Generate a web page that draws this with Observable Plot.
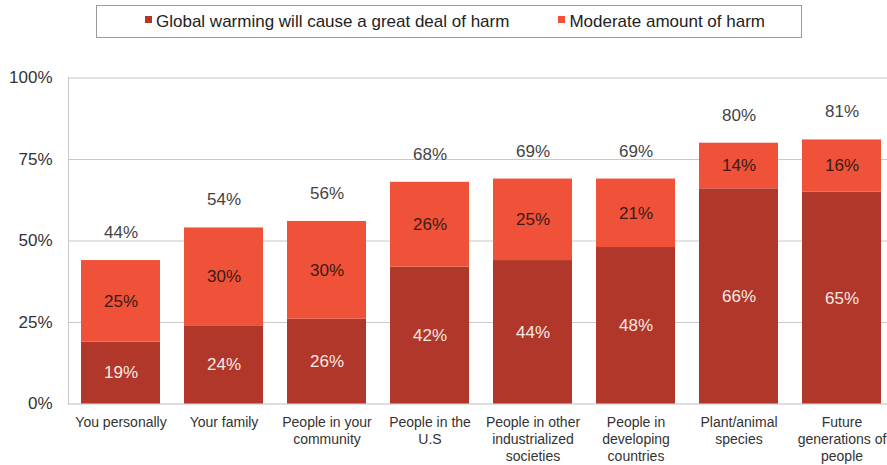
<!DOCTYPE html>
<html><head><meta charset="utf-8">
<script src="https://cdn.jsdelivr.net/npm/d3@7"></script>
<script src="https://cdn.jsdelivr.net/npm/@observablehq/plot@0.6"></script>
<style>
body{margin:0;background:#fff;font-family:"Liberation Sans",Arial,sans-serif;}
#legend{position:relative;height:45px;width:887px;}
#legend .box{position:absolute;left:96px;top:5px;width:706px;height:33px;border:1px solid #9a9a9a;box-sizing:border-box;display:flex;align-items:center;padding-left:48px;font-size:17px;color:#222;}
#legend .item{display:flex;align-items:center;white-space:nowrap;}
#legend .sw{display:inline-block;width:7px;height:7px;margin-right:4px;position:relative;top:-2px;}
#chart svg{display:block;}
</style>
</head><body>
<div id="legend"><div class="box"></div></div>
<div id="chart"></div>
<script>
const categories = ["You personally","Your family","People in your community","People in the U.S","People in other industrialized societies","People in developing countries","Plant/animal species","Future generations of people"];
const tickLabels = ["You personally","Your family","People in your\ncommunity","People in the\nU.S","People in other\nindustrialized\nsocieties","People in\ndeveloping\ncountries","Plant/animal\nspecies","Future\ngenerations of\npeople"];
const seriesNames = ["Global warming will cause a great deal of harm","Moderate amount of harm"];
const greatDeal = [19,24,26,42,44,48,66,65];
const moderate = [25,30,30,26,25,21,14,16];
const totals = [44,54,56,68,69,69,80,81];
const yTicks = [0,25,50,75,100];
const colors = ["#b0372a","#ef5139"];

const box = document.querySelector("#legend .box");
seriesNames.forEach((s,i)=>{
  const it = document.createElement("span");
  it.className="item";
  if(i>0) it.style.marginLeft="49px";
  it.innerHTML = `<span class="sw" style="background:${colors[i]}"></span>${s}`;
  box.appendChild(it);
});

const rows = categories.flatMap((c,i)=>[
  {cat:c, series:seriesNames[0], value:greatDeal[i]},
  {cat:c, series:seriesNames[1], value:moderate[i]}
]);
const labelOf = new Map(categories.map((c,i)=>[c,tickLabels[i]]));
const totalRows = categories.map((c,i)=>({cat:c, total:totals[i]}));

const chart = Plot.plot({
  width:887, height:420,
  marginTop:32.5, marginBottom:61.5, marginLeft:68, marginRight:0,
  style:{fontFamily:"'Liberation Sans', Arial, sans-serif", background:"#fff"},
  x:{domain:categories, range:[80,882.3], paddingInner:0.235, paddingOuter:0},
  y:{domain:[0,100]},
  color:{domain:seriesNames, range:colors},
  marks:[
    Plot.gridY(yTicks.slice(1), {stroke:"#c9c9c9", strokeOpacity:1}),
    Plot.frame({anchor:"left", stroke:"#c9c9c9"}),
    Plot.ruleY([0], {stroke:"#bdbdbd"}),
    Plot.barY(rows, {x:"cat", y:"value", fill:"series"}),
    Plot.text(rows, Plot.stackY({x:"cat", y:"value", text:d=>d.value+"%",
      fill:d=>d.series===seriesNames[0]?"#f6e9e4":"#3a1c14", fontSize:17})),
    Plot.text(totalRows, {x:"cat", y:"total", text:d=>d.total+"%", dy:-28, fill:"#444", fontSize:17}),
    Plot.axisY(yTicks, {tickSize:0, tickPadding:16, tickFormat:d=>d+"%", fontSize:17, color:"#333", label:null}),
    Plot.axisX({tickSize:0, tickPadding:11, tickFormat:d=>labelOf.get(d), fontSize:14, lineHeight:1.2, color:"#333", label:null})
  ]
});
document.getElementById("chart").appendChild(chart);
</script>
</body></html>
